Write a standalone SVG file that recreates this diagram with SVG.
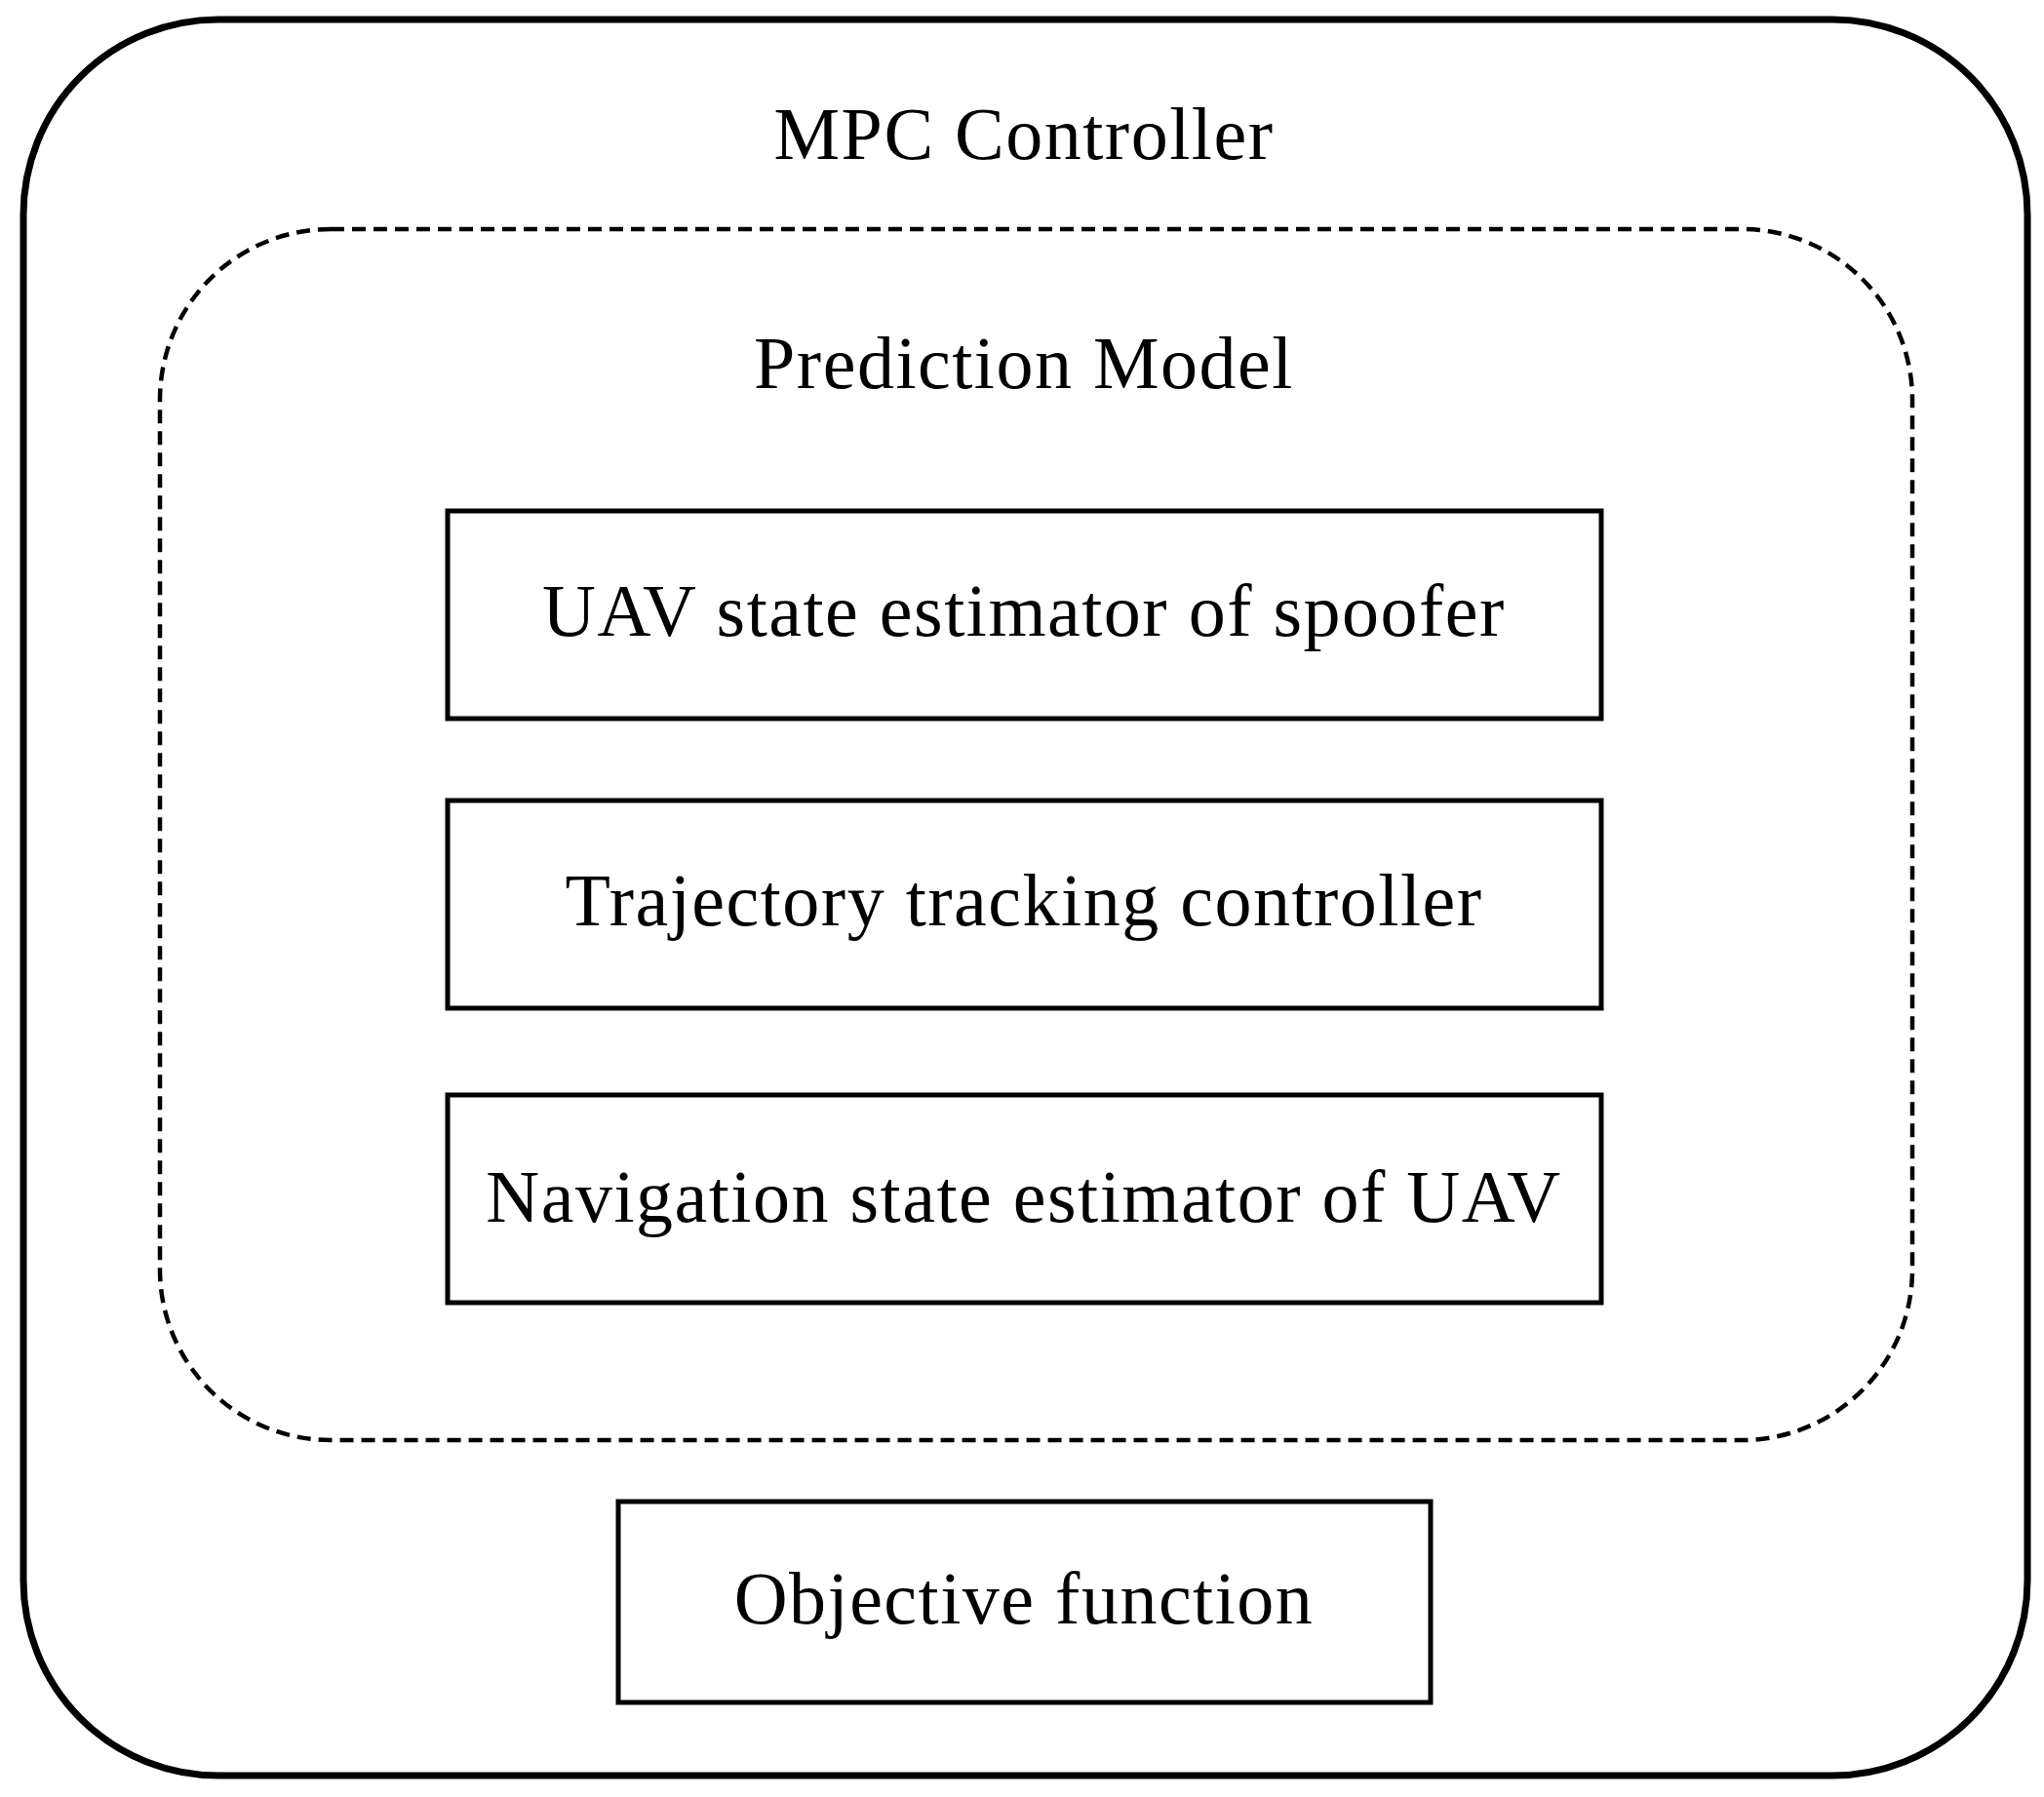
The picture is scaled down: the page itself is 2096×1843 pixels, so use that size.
<svg xmlns="http://www.w3.org/2000/svg" width="2096" height="1843" viewBox="0 0 2096 1843">
<style>
text{font-family:"Liberation Serif",serif;font-size:76px;letter-spacing:1.5px;fill:#000;text-anchor:middle}
.box{fill:#fff;stroke:#000;stroke-width:5}
</style>
<rect width="2096" height="1843" fill="#fff"/>
<g id="mpc">
<rect x="24" y="20" width="2055" height="1801" rx="200" ry="200" fill="none" stroke="#000" stroke-width="7"/>
<text x="1050" y="163">MPC Controller</text>
</g>
<g id="prediction">
<rect x="164" y="235" width="1797" height="1242" rx="175" ry="175" fill="none" stroke="#000" stroke-width="4.5" stroke-dasharray="14,8"/>
<text x="1050" y="398">Prediction Model</text>
</g>
<g id="uav-state">
<rect class="box" x="459" y="524" width="1183" height="213"/>
<text x="1050" y="652">UAV state estimator of spoofer</text>
</g>
<g id="trajectory">
<rect class="box" x="459" y="821" width="1183" height="213"/>
<text x="1050" y="949">Trajectory tracking controller</text>
</g>
<g id="navigation">
<rect class="box" x="459" y="1123" width="1183" height="213"/>
<text x="1050" y="1253">Navigation state estimator of UAV</text>
</g>
<g id="objective">
<rect class="box" x="634" y="1540" width="833" height="206"/>
<text x="1050" y="1665">Objective function</text>
</g>
<g id="connectors"></g>
</svg>
